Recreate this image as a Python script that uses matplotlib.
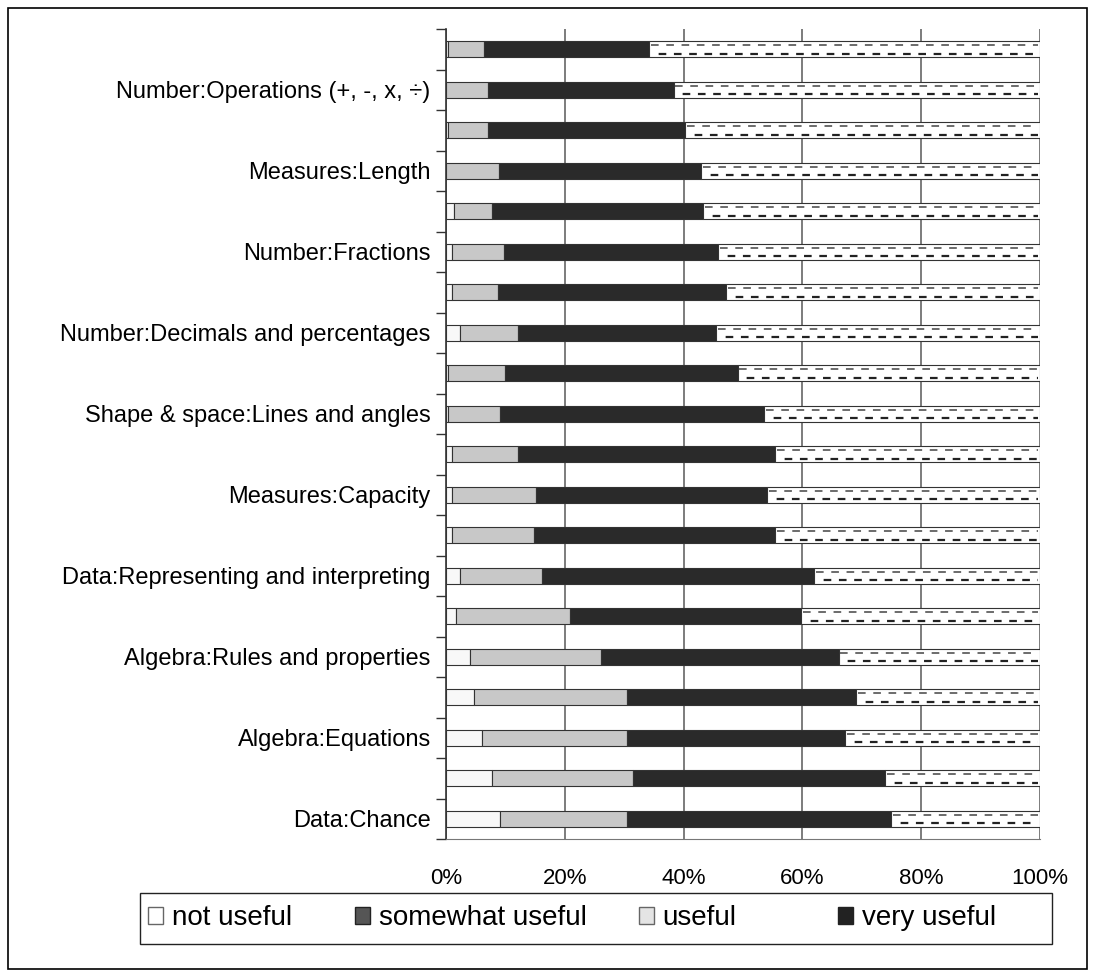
import matplotlib
matplotlib.use('Agg')
import matplotlib.pyplot as plt
from matplotlib.patches import Patch, Rectangle
from matplotlib.ticker import FixedLocator, PercentFormatter
import numpy as np

plt.rcParams['font.family'] = ['Liberation Sans', 'DejaVu Sans']
plt.rcParams['lines.scale_dashes'] = False

# topics, top to bottom; only every other row gets a label
labels = ['', 'Number:Operations (+, -, x, \u00f7)',
          '', 'Measures:Length',
          '', 'Number:Fractions',
          '', 'Number:Decimals and percentages',
          '', 'Shape & space:Lines and angles',
          '', 'Measures:Capacity',
          '', 'Data:Representing and interpreting',
          '', 'Algebra:Rules and properties',
          '', 'Algebra:Equations',
          '', 'Data:Chance']

# percentage of answers per rating
not_useful = [0.4, 0.0, 0.4, 0.0, 1.35, 1.0, 1.0, 2.4, 0.4, 0.4,
              1.0, 1.0, 1.0, 2.4, 1.7, 4.0, 4.7, 6.1, 7.7, 9.1]
useful = [6.0, 7.0, 6.7, 9.0, 6.35, 8.7, 7.75, 9.7, 9.6, 8.7,
          11.1, 14.1, 13.8, 13.7, 19.1, 22.1, 25.8, 24.4, 23.8, 21.4]
somewhat = [27.8, 31.3, 33.2, 34.0, 35.6, 36.1, 38.35, 33.4, 39.1, 44.4,
            43.3, 39.0, 40.6, 45.9, 39.0, 40.0, 38.6, 36.7, 42.4, 44.4]
very_useful = [100 - a - b - c for a, b, c in zip(not_useful, useful, somewhat)]

legend_names = ['not useful', 'somewhat useful', 'useful', 'very useful']
legend_colors = ['white', '#555555', '#e4e4e4', '#222222']

fig = plt.figure(figsize=(10.95, 9.77), dpi=100)
ax = fig.add_axes([446 / 1095, 1 - 839 / 977, 594 / 1095, 810 / 977])

y = np.arange(len(labels))
h = 0.4
edge = '#333333'

left = np.zeros(len(labels))
for vals, col in [(not_useful, '#f8f8f8'), (useful, '#c8c8c8'),
                  (somewhat, '#2a2a2a'), (very_useful, 'white')]:
    ax.barh(y, vals, left=left, height=h, color=col, edgecolor=edge,
            linewidth=0.8, zorder=3)
    left = left + np.array(vals)

# dashed pattern inside the "very useful" segment
start = np.array(not_useful) + np.array(useful) + np.array(somewhat)
for i in range(len(labels)):
    ax.plot([start[i] + 0.3, 99.7], [y[i] - 0.1, y[i] - 0.1], color='#444444',
            lw=1.1, linestyle=(0, (5.5, 5.5)), zorder=4, solid_capstyle='butt')
    ax.plot([start[i] + 0.3, 99.7], [y[i] + 0.11, y[i] + 0.11], color='#222222',
            lw=1.6, linestyle=(5.5, (5.5, 5.5)), zorder=4, solid_capstyle='butt')

ax.set_xlim(0, 100)
ax.set_ylim(len(labels) - 0.5, -0.5)
ax.xaxis.set_major_locator(FixedLocator([0, 20, 40, 60, 80, 100]))
ax.xaxis.set_major_formatter(PercentFormatter(decimals=0))
ax.grid(axis='x', color='#666666', linewidth=1.2, zorder=0)

ax.set_yticks(np.arange(len(labels) + 1) - 0.5)
ax.set_yticklabels([])
ax.set_yticks(y, minor=True)
ax.set_yticklabels(labels, minor=True, fontsize=17)
ax.tick_params(axis='y', which='major', length=7, width=1, color='#333333',
               direction='out')
ax.tick_params(axis='y', which='minor', length=0, pad=11)
ax.tick_params(axis='x', length=0, pad=21, labelsize=16)

for s in ['top', 'right']:
    ax.spines[s].set_visible(False)
ax.spines['left'].set_color('#333333')
ax.spines['bottom'].set_color('#777777')
ax.spines['left'].set_linewidth(1.2)

# legend with its own box, one entry per slot
fig.patches.append(Rectangle((140 / 1095, 1 - 944 / 977), 912 / 1095, 51 / 977,
                             transform=fig.transFigure, fill=False,
                             edgecolor='#222222', linewidth=1.0))
slots = [148, 355, 639, 838]
for name, col, x0 in zip(legend_names, legend_colors, slots):
    ec = '#666666' if col in ('white', '#e4e4e4') else '#222222'
    fig.legend(handles=[Patch(facecolor=col, edgecolor=ec, label=name)],
               loc='center left', frameon=False, fontsize=20,
               bbox_to_anchor=(x0 / 1095, 1 - 918 / 977),
               handlelength=0.55, handleheight=0.55, handletextpad=0.3,
               borderpad=0, borderaxespad=0)

# outer frame
fig.patches.append(Rectangle((8 / 1095, 1 - 969 / 977), 1079 / 1095, 961 / 977,
                             transform=fig.transFigure, fill=False,
                             edgecolor='black', linewidth=1.2))

fig.savefig('out.png', dpi=100)
